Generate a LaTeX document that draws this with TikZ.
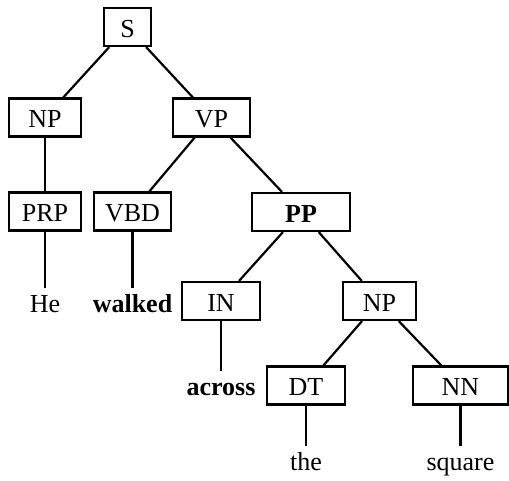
\documentclass[tikz,border=0pt]{standalone}
\usepackage{fontspec}
\setmainfont{Liberation Serif}
\usepackage{tikz}
\usetikzlibrary{shapes, positioning}

\begin{document}
\begin{tikzpicture}[x=1pt, y=-1pt, line width=2.2pt,
        font=\fontsize{26}{30}\selectfont,
        cat/.style={draw, rectangle, minimum height=38pt, inner sep=0pt,
            text height=20pt, text depth=0pt},
        word/.style={anchor=base, text height=18pt, inner sep=5pt}]
        \useasboundingbox (0, 0) rectangle (509, 480);

        \node[cat, minimum width=47pt] (s) at (127.5, 27) {S};
        \node[cat, minimum width=72pt] (np) at (45, 117.5) {NP};
        \node[cat, minimum width=77pt] (vp) at (211.5, 117.5) {VP};
        \node[cat, minimum width=72pt] (prp) at (45, 211.5) {PRP};
        \node[cat, minimum width=77pt] (vbd) at (132.5, 211.5) {VBD};
        \node[cat, minimum width=98pt] (pp) at (301, 212) {\textbf{PP}};
        \node[cat, minimum width=78pt] (in) at (221, 301) {IN};
        \node[cat, minimum width=73pt] (np2) at (379.5, 301) {NP};
        \node[cat, minimum width=78pt] (dt) at (306, 385.5) {DT};
        \node[cat, minimum width=95pt] (nn) at (460.5, 385.5) {NN};

        \node[word] (he) at (45, 312) {He};
        \node[word] (walked) at (132.5, 312) {\textbf{walked}};
        \node[word] (across) at (221, 395) {\textbf{across}};
        \node[word] (the) at (306, 470) {the};
        \node[word] (square) at (460.5, 470) {square};

        \draw (s) -- (np);
        \draw (s) -- (vp);
        \draw (np) -- (prp);
        \draw (vp) -- (vbd);
        \draw (vp) -- (pp);
        \draw (pp) -- (in);
        \draw (pp) -- (np2);
        \draw (np2) -- (dt);
        \draw (np2) -- (nn);

        \draw (prp) -- (he);
        \draw (vbd) -- (walked);
        \draw (in) -- (across);
        \draw (dt) -- (the);
        \draw (nn) -- (square);
    \end{tikzpicture}
\end{document}
